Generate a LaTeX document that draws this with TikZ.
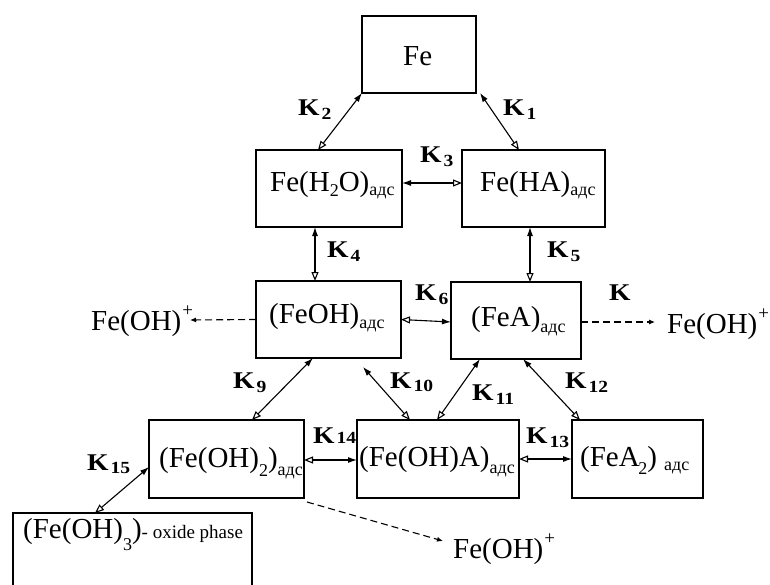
\documentclass[tikz,border=0pt]{standalone}
\usepackage{fontspec}
\setmainfont{Liberation Serif}
\usetikzlibrary{arrows.meta}
\newcommand{\lo}[2][5pt]{\raisebox{-#1}{\fontsize{18}{18}\selectfont #2}}
\newcommand{\plus}{\kern1pt\raisebox{14pt}{\fontsize{19}{19}\selectfont +}}
\newcommand{\Kb}{\scalebox{1.15}[1]{\fontsize{24}{24}\selectfont\bfseries K}}
\newcommand{\Ks}[2][4pt]{\Kb\kern2pt\raisebox{-#1}{\scalebox{1.15}[1]{\fontsize{17}{17}\selectfont\bfseries #2}}}
\begin{document}
\begin{tikzpicture}[x=1pt,y=-1pt,
  box/.style={draw,line width=1.3pt,inner sep=0pt,outer sep=0pt},
  txt/.style={inner sep=0pt,anchor=base west,font=\fontsize{29}{32}\selectfont},
  klab/.style={inner sep=0pt,anchor=base west},
  dbl/.style={line width=1.1pt,{Latex[length=9pt,width=6pt]}-{Triangle[open,length=9pt,width=7pt]}},
  dsh/.style={line width=1.1pt,dash pattern=on 7pt off 4pt,-{Latex[length=6pt,width=5pt]}}]
\useasboundingbox (0,0) rectangle (770,585);
% boxes
\node[box,minimum width=114pt,minimum height=77pt] (fe) at (419,54.5) {};
\node[box,minimum width=146pt,minimum height=77pt] (h2o) at (329,188.5) {};
\node[box,minimum width=143pt,minimum height=77pt] (ha) at (533.5,188.5) {};
\node[box,minimum width=145pt,minimum height=77pt] (feoh) at (328.5,319.5) {};
\node[box,minimum width=130pt,minimum height=77pt] (fea) at (516,320.5) {};
\node[box,minimum width=155pt,minimum height=78pt] (oh2) at (226.5,459) {};
\node[box,minimum width=162pt,minimum height=78pt] (oha) at (438,459) {};
\node[box,minimum width=131pt,minimum height=78pt] (fea2) at (637.5,459) {};
\node[box,minimum width=239pt,minimum height=76pt] (oh3) at (132.5,551) {};
% texts
\node[txt] (tfe) at (403,66) {Fe};
\node[txt] (th2o) at (270,192) {Fe(H\lo{2}O)\lo[4pt]{адс}};
\node[txt] (tha) at (480,192) {Fe(HA)\lo[4pt]{адс}};
\node[txt] (tfeoh) at (269,323) {(FeOH)\lo{адс}};
\node[txt] (tfea) at (471,326) {(FeA)\lo[6pt]{адс}};
\node[txt] (toh2) at (159,467) {(Fe(OH)\lo[9pt]{2})\lo[8pt]{адс}};
\node[txt] (toha) at (359,466) {(Fe(OH)A)\lo[7pt]{адс}};
\node[txt] (tfea2) at (580,466) {(FeA\kern-1.5pt\lo[8pt]{2}) \lo[4pt]{адс}};
\node[txt] (toh3) at (23,538) {(Fe(OH)\lo[12pt]{3})\raisebox{0pt}{\fontsize{19}{19}\selectfont - oxide phase}};
\node[txt] (pl) at (91,330) {Fe(OH)\plus};
\node[txt] (pr) at (667,333) {Fe(OH)\plus};
\node[txt] (pb) at (453,558) {Fe(OH)\plus};
% K labels
\node[klab] (k2) at (298,116) {\Ks{2}};
\node[klab] (k1) at (503,116) {\Ks{1}};
\node[klab] (k3) at (420,163) {\Ks{3}};
\node[klab] (k4) at (327,258) {\Ks{4}};
\node[klab] (k5) at (547,258) {\Ks{5}};
\node[klab] (k6) at (415,300) {\Ks{6}};
\node[klab] (kk) at (609,300) {\Kb};
\node[klab] (k9) at (233,388) {\Ks{9}};
\node[klab] (k10) at (390,388) {\Ks[3pt]{10}};
\node[klab] (k11) at (472,400) {\Ks{11}};
\node[klab] (k12) at (565,388) {\Ks{12}};
\node[klab] (k13) at (526,443) {\Ks{13}};
\node[klab] (k14) at (313,443) {\Ks[0pt]{14}};
\node[klab] (k15) at (87,470) {\Ks[3pt]{15}};
% coordinates for free ends
\coordinate (el) at (190,320);
\coordinate (er) at (655,322);
\coordinate (eb) at (443,541);
% connectors
\draw[dbl] (fe.south west) -- ([xshift=62pt]h2o.north west);
\draw[dbl] ([xshift=4pt]fe.south east) -- ([xshift=57pt]ha.north west);
\draw[dbl] ([yshift=5.5pt]h2o.east) -- ([yshift=5.5pt]ha.west);
\draw[dbl] ([xshift=59pt]h2o.south west) -- ([xshift=59pt]feoh.north west);
\draw[dbl] ([xshift=68pt]ha.south west) -- ([xshift=79pt]fea.north west);
\draw[dbl] ([yshift=-1.5pt]fea.west) -- (feoh.east);
\draw[dbl] ([xshift=57pt]feoh.south west) -- ([xshift=103pt]oh2.north west);
\draw[dbl] ([xshift=107pt,yshift=-9pt]feoh.south west) -- ([xshift=53pt]oha.north west);
\draw[dbl] ([xshift=29pt]fea.south west) -- ([xshift=80pt]oha.north west);
\draw[dbl] ([xshift=72pt]fea.south west) -- ([xshift=8pt]fea2.north west);
\draw[dbl] ([yshift=-1pt]oha.west) -- ([yshift=-1pt]oh2.east);
\draw[dbl] (fea2.west) -- (oha.east);
\draw[dbl] ([yshift=-8pt]oh2.west) -- ([xshift=82pt]oh3.north west);
\draw[dsh] (feoh.west) -- (el);
\draw[dsh] ([yshift=-1.5pt]fea.east) -- (er);
\draw[dsh] ([xshift=3pt,yshift=-4pt]oh2.south east) -- (eb);
\end{tikzpicture}
\end{document}
